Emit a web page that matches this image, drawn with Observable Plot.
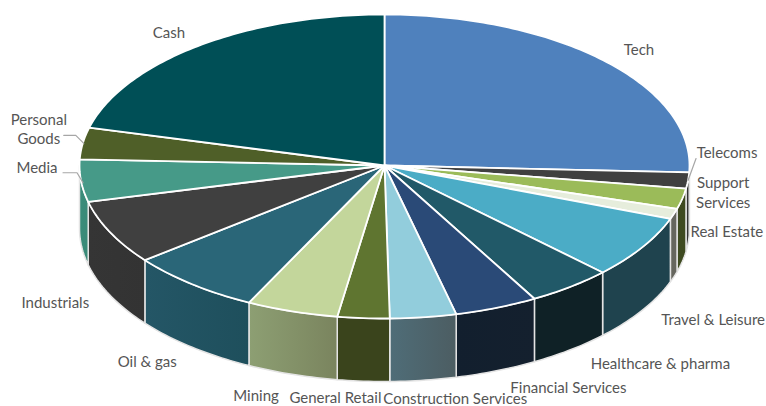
<!DOCTYPE html>
<html>
<head>
<meta charset="utf-8">
<script src="https://cdn.jsdelivr.net/npm/d3@7"></script>
<script src="https://cdn.jsdelivr.net/npm/@observablehq/plot@0.6"></script>
<style>
  html, body { margin: 0; padding: 0; background: #fff; }
  svg { display: block; }
</style>
</head>
<body>
<script>
// Portfolio allocation, percent of total, clockwise from twelve o'clock
const sectors = ["Tech", "Telecoms", "Support\nServices", "Real Estate", "Travel & Leisure",
  "Healthcare & pharma", "Financial Services", "Construction Services", "General Retail",
  "Mining", "Oil & gas", "Industrials", "Media", "Personal\nGoods", "Cash"];
const shares = [25.7, 1.7, 2.15, 1.1, 6.65, 4.5, 4.4, 3.5, 2.75, 4.85, 7.05, 6.8, 4.45, 3.4, 20.95];

const topColors = ["#4f81bd", "#404040", "#9bbb59", "#e6eddc", "#4bacc6", "#215968", "#2a4a77",
  "#92cddc", "#5f7530", "#c3d69b", "#2a6678", "#404040", "#469a88", "#4f5f28", "#004f56"];
const wallLeft = ["#3b6190", "#333333", "#3e4a20", "#66665e", "#1f434e", "#0f2126", "#121f2e",
  "#4f6d78", "#3a441c", "#8d9f73", "#245666", "#353535", "#3a8c7a", "#3b471e", "#003b41"];
const wallRight = ["#3b6190", "#333333", "#3e4a20", "#66665e", "#1f434e", "#0f2126", "#14202e",
  "#4c5d62", "#3a441c", "#7a845e", "#1e4f5c", "#333333", "#3a8a78", "#3b471e", "#003b41"];

// Label offsets from the rim at each slice's mid-angle, in pixels
const labelDx = [34, 39, 41, 53, 71, 90, 72, 32, -28, -36, -45, -55, -44, -44, -29];
const labelDy = [-12, -29, -7, 17, 71, 76, 79, 80, 79, 83, 76, 69, -14, -15, -14];

// Pixel extent of the tilted disc and the thickness of its wall;
// the near half of the disc reads slightly larger than the far half
const cx = 384, cy = 165, rx = 305, ry = 151, nearStretch = 153 / 151, depth = 63 / ry;

const total = d3.sum(shares);
const turns = d3.cumsum(shares).map((s) => (s / total) * 360);
const slices = sectors.map((name, i) => ({
  name, i, t0: i ? turns[i - 1] : 0, t1: turns[i], mid: ((i ? turns[i - 1] : 0) + turns[i]) / 2
}));

const rad = (deg) => (deg * Math.PI) / 180;
const rim = (deg, drop = 0) => {
  const c = Math.cos(rad(deg));
  return { x: Math.sin(rad(deg)), y: (c < 0 ? c * nearStretch : c) - drop };
};
const arc = (a, b, drop = 0) => {
  const n = Math.max(2, Math.ceil(Math.abs(b - a)));
  return d3.range(n + 1).map((k) => rim(a + ((b - a) * k) / n, drop));
};

// Outer wall of the slices facing the viewer
const walls = slices.flatMap((s) => {
  const a = Math.max(s.t0, 90), b = Math.min(s.t1, 270);
  if (a >= b) return [];
  const ring = [...arc(a, b), ...arc(b, a, depth)];
  return [...ring, ring[0]].map((p) => ({ ...p, key: s.name, fill: `url(#wall${s.i})` }));
});

// Upper face of every slice
const faces = slices.flatMap((s) => {
  const ring = [{ x: 0, y: 0 }, ...arc(s.t0, s.t1), { x: 0, y: 0 }];
  return ring.map((p) => ({ ...p, key: s.name, fill: topColors[s.i] }));
});

const labels = slices.map((s) => {
  const p = rim(s.mid);
  return { name: s.name, x: p.x + labelDx[s.i] / rx, y: p.y - labelDy[s.i] / ry };
});

// Leader lines for the labels that sit beside narrow slices: rim, knee, label end
const leaderOf = (name, steps) => {
  const s = slices.find((d) => d.name === name);
  const p = rim(s.mid);
  return steps.map(([dx, dy]) => ({ key: name, x: p.x + dx / rx, y: p.y - dy / ry }));
};
const leaders = [
  ...leaderOf("Telecoms", [[0, 0], [8, -22]]),
  ...leaderOf("Media", [[2, 2], [-4, -8], [-18, -8]]),
  ...leaderOf("Personal\nGoods", [[1, 0], [-7, -8], [-19, -8]])
];

// Horizontal shading for the wall panels
const wallGradients = () => {
  const defs = d3.create("svg:defs");
  const g = defs.selectAll("linearGradient").data(slices).join("linearGradient")
    .attr("id", (s) => `wall${s.i}`);
  g.append("stop").attr("offset", 0).attr("stop-color", (s) => wallLeft[s.i]);
  g.append("stop").attr("offset", 1).attr("stop-color", (s) => wallRight[s.i]);
  return defs.node();
};

const chart = Plot.plot({
  width: 766,
  height: 406,
  margin: 0,
  style: { background: "#fff", fontFamily: "Lato, sans-serif" },
  x: { domain: [-1, 1], range: [cx - rx, cx + rx], axis: null },
  y: { domain: [1, -1], range: [cy - ry, cy + ry], axis: null },
  color: { type: "identity" },
  marks: [
    wallGradients,
    Plot.line(walls, { x: "x", y: "y", z: "key", fill: "fill", stroke: "#e4e4e4", strokeWidth: 1.5, strokeLinejoin: "round" }),
    Plot.line(faces, { x: "x", y: "y", z: "key", fill: "fill", stroke: "#fff", strokeWidth: 1.8, strokeLinejoin: "round" }),
    Plot.line(leaders, { x: "x", y: "y", z: "key", stroke: "#a6a6a6", strokeWidth: 1.2 }),
    Plot.text(labels, { x: "x", y: "y", text: "name", fill: "#555", fontSize: 15, lineHeight: 1.3 })
  ]
});
document.body.append(chart);
</script>
</body>
</html>
